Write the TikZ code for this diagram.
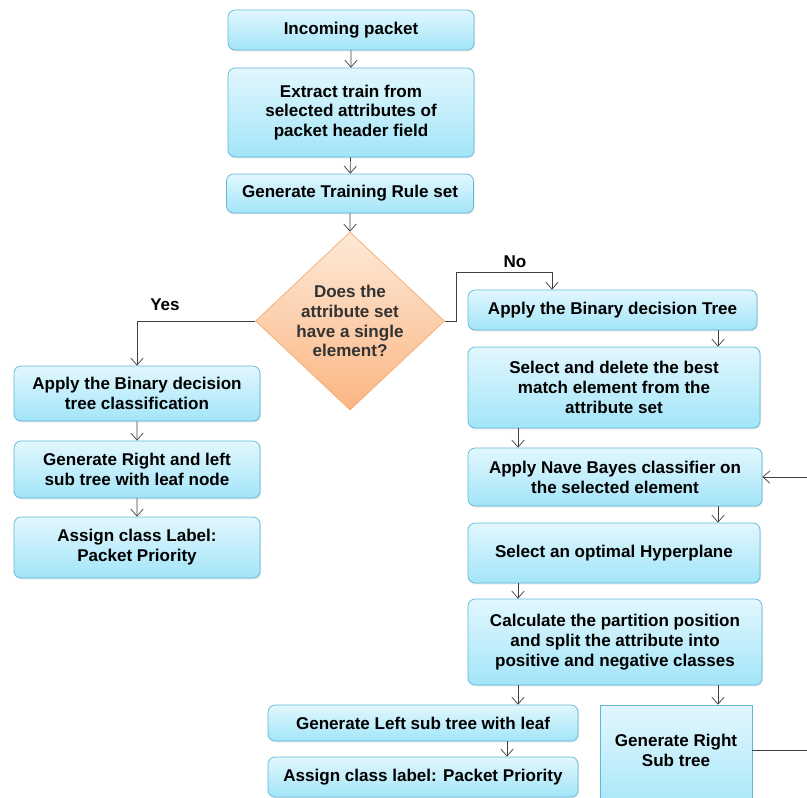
\documentclass[tikz,border=0pt]{standalone}
\usepackage{fontspec}
\setmainfont{Liberation Sans}
\usepackage{xcolor}
\usepackage{tikz}
\usetikzlibrary{arrows.meta,shapes.geometric,shadows}

\definecolor{boxtop}{RGB}{226,247,253}
\definecolor{boxbot}{RGB}{162,229,249}
\definecolor{boxline}{RGB}{96,184,216}
\definecolor{dectop}{RGB}{253,233,216}
\definecolor{decbot}{RGB}{251,182,130}
\definecolor{decline}{RGB}{245,170,112}
\definecolor{flowline}{RGB}{64,64,64}

\begin{document}
\begin{tikzpicture}[scale=0.2]
\tikzstyle{every node}+=[inner sep=0pt, font=\bfseries\fontsize{9.7}{11.3}\selectfont]
\tikzstyle{box}=[draw=boxline, rounded corners=4pt, top color=boxtop, bottom color=boxbot, align=center, drop shadow={opacity=0.2, shadow xshift=0.6pt, shadow yshift=-0.8pt}]
\tikzstyle{flow}=[draw=flowline, -{Straight Barb[length=4pt,width=7pt]}]
\useasboundingbox (0,0) rectangle (80.7,-79.7);
% main column
\node [box, minimum width=4.92cm, minimum height=0.8cm] (inc) at (35.1,-3.0) {Incoming packet};
\node [box, minimum width=4.92cm, minimum height=1.78cm] (ext) at (35.1,-11.25) {Extract train from\\selected attributes of\\packet header field};
\node [box, minimum width=4.94cm, minimum height=0.78cm] (gen) at (35.0,-19.35) {Generate Training Rule set};
\node [diamond, draw=decline, top color=dectop, bottom color=decbot, minimum width=3.78cm, minimum height=3.56cm] (dec) at (35.0,-32.1) {};
\node [align=center, text=black!80] (dect) at (dec.center) {Does the\\attribute set\\have a single\\element?};
% yes branch
\node [box, minimum width=4.92cm, minimum height=1.1cm] (abt) at (13.7,-39.35) {Apply the Binary decision\\tree classification};
\node [box, minimum width=4.92cm, minimum height=1.14cm] (grl) at (13.7,-46.95) {Generate Right and left\\sub tree with leaf node};
\node [box, minimum width=4.92cm, minimum height=1.22cm] (acl) at (13.7,-54.75) {Assign class Label:\\Packet Priority};
\node (yes) at (16.5,-30.5) {Yes};
% no branch
\node [box, minimum width=5.78cm, minimum height=0.8cm] (bdt) at (61.25,-31.0) {Apply the Binary decision Tree};
\node [box, minimum width=5.84cm, minimum height=1.62cm] (sdb) at (61.4,-38.75) {Select and delete the best\\match element from the\\attribute set};
\node [box, minimum width=5.88cm, minimum height=1.16cm] (nbc) at (61.5,-47.7) {Apply Nave Bayes classifier on\\the selected element};
\node [box, minimum width=5.84cm, minimum height=1.2cm] (ohp) at (61.4,-55.3) {Select an optimal Hyperplane};
\node [box, minimum width=5.88cm, minimum height=1.72cm] (cpp) at (61.5,-64.2) {Calculate the partition position\\and split the attribute into\\positive and negative classes};
\node [box, minimum width=6.2cm, minimum height=0.72cm] (lst) at (42.3,-72.3) {Generate Left sub tree with leaf};
\node [box, minimum width=6.2cm, minimum height=0.8cm] (lab) at (42.3,-77.7) {Assign class label: Packet Priority};
\node [box, rounded corners=0pt, minimum width=3.04cm, minimum height=2.3cm, text depth=0.5cm] (rst) at (67.6,-76.25) {Generate Right\\Sub tree};
\node (no) at (51.5,-26.2) {No};
% column positions and free ends
\coordinate (cl) at (51.8,0);
\coordinate (cr) at (71.8,0);
\coordinate (cs) at (50.7,0);
\coordinate (nox) at (55.2,-27.2);
\coordinate (fbk) at (80.7,-47.7);
\coordinate (rout) at (80.7,-75.0);
% connectors
\draw [flow] (inc) -- (ext);
\draw [flow] (ext) -- (gen);
\draw [flow] (gen) -- (dec);
\draw [flow] (dec.west) -| (abt.north);
\draw [flow] (abt) -- (grl);
\draw [flow] (grl) -- (acl);
\draw [flow] (dec.east) -- ++(1.1,0) |- (nox) -- (nox |- bdt.north);
\draw [flow] (bdt.south -| cr) -- (sdb.north -| cr);
\draw [flow] (sdb.south -| cl) -- (nbc.north -| cl);
\draw [flow] (nbc.south -| cr) -- (ohp.north -| cr);
\draw [flow] (ohp.south -| cl) -- (cpp.north -| cl);
\draw [flow] (cpp.south -| cl) -- (lst.north -| cl);
\draw [flow] (cpp.south -| cr) -- (rst.north -| cr);
\draw [flow] (lst.south -| cs) -- (lab.north -| cs);
\draw [flow] (fbk) -- (nbc.east);
\draw [draw=flowline] (rst.east |- rout) -- (rout);
\end{tikzpicture}
\end{document}
